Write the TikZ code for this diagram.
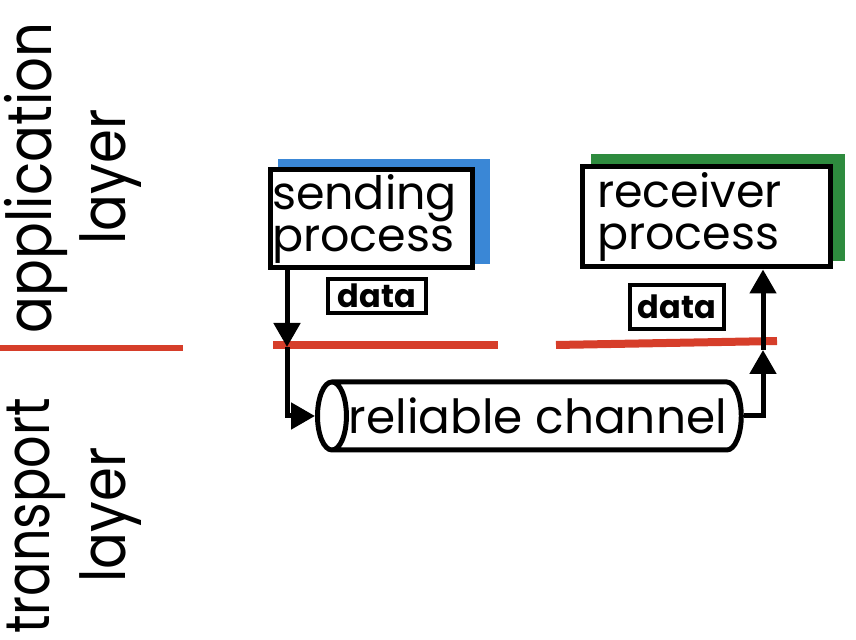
\documentclass[tikz,border=0pt]{standalone}
\usepackage{fontspec}
\setmainfont{Poppins}
\usetikzlibrary{arrows.meta,shapes.geometric,backgrounds,positioning}
\definecolor{layerred}{RGB}{214,62,42}
\definecolor{sendblue}{RGB}{58,135,214}
\definecolor{recvgreen}{RGB}{46,139,62}
\newcommand{\squeezed}[2][0.88]{\scalebox{#1}[1]{#2}}
\tikzset{
  procbox/.style={draw,line width=2.5pt,fill=white,inner ysep=0pt,align=left,
    font=\fontsize{23}{21}\selectfont},
  databox/.style={draw,line width=2pt,inner sep=0pt,font=\fontsize{16}{16}\bfseries},
  flow/.style={line width=2.5pt,-{Triangle[length=12pt,width=13pt]}},
  layerline/.style={layerred,line width=4pt},
  layertext/.style={rotate=90,inner sep=0pt,font=\fontsize{31}{31}\selectfont}
}
\begin{document}
\begin{tikzpicture}[x=0.5pt,y=-0.5pt]
\useasboundingbox (0,0) rectangle (856,640);
% layer labels
\node[layertext] (app) at (36,178) {\squeezed{application}};
\node[layertext] (applayer) at (111,177) {\squeezed{layer}};
\node[layertext] (trans) at (36,516) {\squeezed[0.82]{transport}};
\node[layertext] (translayer) at (111,515) {\squeezed{layer}};
\draw[layerred,line width=3pt] (0,348) -- (183,348);
% processes
\node[procbox,text width=99pt,inner xsep=1pt,minimum height=49pt] (send) at (371,219) {sending\\process};
\node[procbox,text width=109pt,inner xsep=7.5pt,minimum height=50pt] (recv) at (706,217) {receiver\\process};
\begin{scope}[on background layer]
\fill[sendblue] ([shift={(10,-6)}]send.south west) rectangle ([shift={(15,-8)}]send.north east);
\fill[recvgreen] ([shift={(11,-8)}]recv.south west) rectangle ([shift={(12,-10)}]recv.north east);
\end{scope}
\node[databox,minimum width=49pt,minimum height=17pt] (data1) at (377,296) {data};
\node[databox,minimum width=47pt,minimum height=22pt] (data2) at (677,307) {data};
% layer boundary
\draw[layerline] (273,345) -- (498,345);
\draw[layerline] (556,345) -- (777,341);
% channel
\node[cylinder,shape border rotate=180,draw,line width=2.5pt,aspect=0.8,
  minimum height=210pt,minimum width=34pt,inner sep=0pt,anchor=west,
  font=\fontsize{23.5}{24}\selectfont] (chan) at (315,416) {reliable channel};
\coordinate (sdown) at (287,347);
\coordinate (rup) at (763,350);
\draw[flow] (send.south -| sdown) -- (sdown);
\draw[flow] (sdown) |- (chan.west);
\draw[flow] (chan.east) -| (rup);
\draw[flow] (rup) -- (recv.south -| rup);
\end{tikzpicture}
\end{document}
